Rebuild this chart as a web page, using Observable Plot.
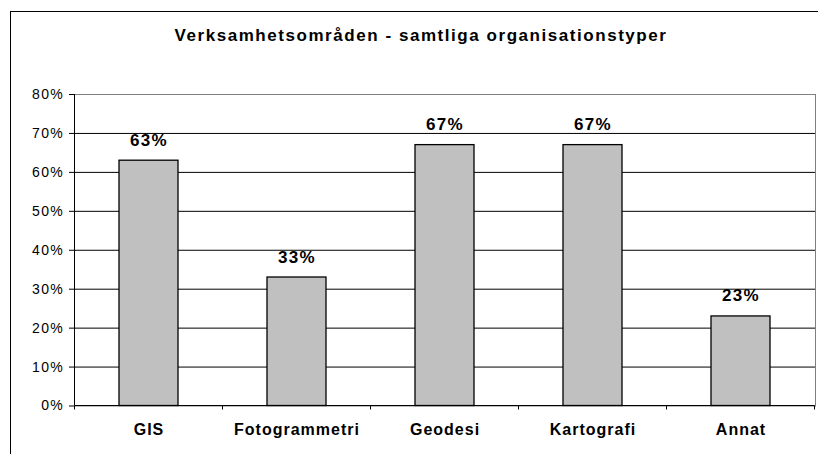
<!DOCTYPE html>
<html>
<head>
<meta charset="utf-8">
<script src="https://cdn.jsdelivr.net/npm/d3@7"></script>
<script src="https://cdn.jsdelivr.net/npm/@observablehq/plot@0.6"></script>
<style>
  html, body { margin: 0; padding: 0; background: #fff; }
  #wrap { position: relative; width: 818px; height: 454px; overflow: hidden; background: #fff; }
  #outer { position: absolute; left: 10px; top: 11px; width: 900px; height: 600px;
           border-left: 1px solid #000; border-top: 1px solid #000; box-sizing: border-box; }
  #title { position: absolute; left: 12px; top: 27.5px; width: 818px; text-align: center;
           font-family: "Liberation Sans", Arial, sans-serif; font-weight: bold; font-size: 17px;
           line-height: 15px; letter-spacing: 1.55px; color: #000; white-space: nowrap; }
  #chart { position: absolute; left: 0; top: 0; }
</style>
</head>
<body>
<div id="wrap">
  <div id="outer"></div>
  <div id="title">Verksamhetsområden - samtliga organisationstyper</div>
  <div id="chart"></div>
</div>
<script>
const categories = ["GIS", "Fotogrammetri", "Geodesi", "Kartografi", "Annat"];
const values = [63, 33, 67, 67, 23];
const yTicks = [0, 10, 20, 30, 40, 50, 60, 70, 80];
const gridTicks = [10, 20, 30, 40, 50, 60, 70];

const data = categories.map((c, i) => ({category: c, value: values[i]}));

// axis lines and category boundary ticks drawn from the x band scale
function axisLines(index, scales, values, dims) {
  const x = scales.x;
  const bw = typeof x.bandwidth === "function" ? x.bandwidth() : x.bandwidth;
  const step = typeof x.step === "function" ? x.step() : x.step;
  const y0 = dims.height - dims.marginBottom;
  const top = dims.marginTop;
  const g = d3.create("svg:g").attr("stroke", "#000").attr("stroke-width", 1);
  const bounds = categories.map(c => x(c) - (step - bw) / 2);
  bounds.push(bounds[bounds.length - 1] + step);
  g.append("line").attr("x1", bounds[0]).attr("x2", bounds[0]).attr("y1", top).attr("y2", y0);
  g.append("line").attr("x1", bounds[0]).attr("x2", bounds[bounds.length - 1]).attr("y1", y0).attr("y2", y0);
  for (const b of bounds) {
    g.append("line").attr("x1", b).attr("x2", b).attr("y1", y0).attr("y2", y0 + 4);
  }
  return g.node();
}

const plot = Plot.plot({
  width: 818,
  height: 454,
  marginLeft: 74,
  marginRight: 3,
  marginTop: 94,
  marginBottom: 48.5,
  style: {fontFamily: '"Liberation Sans", Arial, sans-serif', background: "transparent", color: "#000", overflow: "visible"},
  x: {domain: categories, paddingInner: 0.6, paddingOuter: 0.3, label: null},
  y: {domain: [0, 80], label: null},
  marks: [
    Plot.ruleY(gridTicks, {stroke: "#000", strokeWidth: 1}),
    Plot.frame({stroke: "#808080", strokeWidth: 1}),
    Plot.barY(data, {x: "category", y: "value", fill: "#c0c0c0", stroke: "#000", strokeWidth: 1.3}),
    axisLines,
    Plot.axisY(yTicks, {label: null, tickFormat: d => d + "%", tickSize: 5, tickPadding: 5.5, fontSize: 14, stroke: "#000", fill: "#000"}),
    Plot.axisX({label: null, tickSize: 0, tickPadding: 18, fontSize: 16, fontWeight: "bold", fill: "#000"}),
    Plot.text(data, {x: "category", y: "value", text: d => d.value + "%", lineAnchor: "bottom", dy: -15,
                     fontSize: 17, fontWeight: "bold", fill: "#000"})
  ]
});

plot.querySelectorAll('[aria-label="y-axis tick label"] text').forEach(t => t.style.letterSpacing = "1.3px");
plot.querySelectorAll('[aria-label="x-axis tick label"] text').forEach(t => t.style.letterSpacing = "1px");
plot.querySelectorAll('[aria-label="text"] text').forEach(t => t.style.letterSpacing = "1.3px");

document.getElementById("chart").appendChild(plot);
</script>
</body>
</html>
